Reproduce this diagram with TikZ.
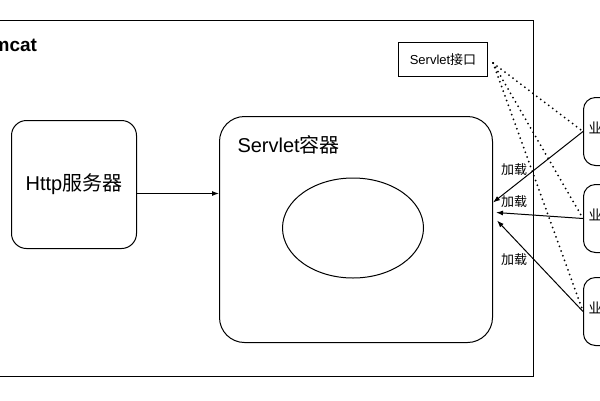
\documentclass[tikz,border=0pt]{standalone}
\usepackage{fontspec}
\setmainfont{Liberation Sans}
\newfontfamily\cjk{Noto Sans CJK SC}
\usetikzlibrary{positioning,shapes.geometric,arrows.meta}

\begin{document}
\begin{tikzpicture}[x=1pt, y=-1pt, line width=1pt,
  box/.style={draw, rounded corners=15pt, inner sep=0pt, anchor=north west},
  bizbox/.style={box, rounded corners=12pt, minimum width=70pt, minimum height=68pt, text width=60pt, align=left, font=\fontsize{14}{16}\selectfont},
  load/.style={-{Latex[length=7pt,width=5pt]}},
  impl/.style={line width=2pt, line cap=round, dash pattern=on 0pt off 5pt},
  tag/.style={font=\fontsize{13}{15}\selectfont\cjk, inner sep=0pt}]
\clip (0,0) rectangle (600,400);
\fill[white] (0,0) rectangle (600,400);
% tomcat frame, cut at the left edge
\node (tomcat) [draw, anchor=north west, inner sep=0pt, minimum width=573pt, minimum height=356pt] at (-40,20) {};
\node (tomcatlbl) [anchor=base east, inner sep=0pt, font=\bfseries\fontsize{19}{22}\selectfont] at (37.5,51) {Tomcat};

\node (http) [box, minimum width=125pt, minimum height=128pt, font=\fontsize{20}{24}\selectfont] at (11,120) {Http{\cjk 服务器}};
\node (container) [box, rounded corners=25pt, minimum width=273pt, minimum height=226pt] at (219,116) {};
\node (containerlbl) [anchor=base west, inner sep=0pt, font=\fontsize{20}{24}\selectfont] at (237,152) {Servlet{\cjk 容器}};
\node (pool) [draw, ellipse, minimum width=141pt, minimum height=100pt] at (353,228) {};
\node (iface) [draw, anchor=north west, inner sep=0pt, minimum width=89pt, minimum height=34pt, font=\fontsize{13}{15}\selectfont] at (398,42) {Servlet{\cjk 接口}};
\coordinate (ifaceout) at (493,63);

% business servlets, cut at the right edge
\node (biz1) [bizbox, text depth=8pt] at (583,97) {{\cjk 业务}Servlet};
\node (biz2) [bizbox, text depth=8pt] at (583,184) {{\cjk 业务}Servlet};
\node (biz3) [bizbox, text depth=8pt] at (583,277) {{\cjk 业务}Servlet};

\draw[-{Latex[length=7pt,width=5pt]}] ([yshift=-9pt]http.east) -- ([yshift=-9pt]container.west |- http.east);

\draw[impl] (ifaceout) -- (biz1.west);
\draw[impl] (ifaceout) -- (biz2.west);
\draw[impl] (ifaceout) -- (biz3.west);

\draw[load] (biz1.west) -- ([yshift=27pt]container.east);
\draw[load] (biz2.west) -- ([xshift=3pt,yshift=17pt]container.east);
\draw[load] (biz3.west) -- ([xshift=4pt,yshift=9pt]container.east);

\node (load1) [tag] at (514,170) {加载};
\node (load2) [tag] at (514,202) {加载};
\node (load3) [tag] at (514,260) {加载};
\end{tikzpicture}
\end{document}
